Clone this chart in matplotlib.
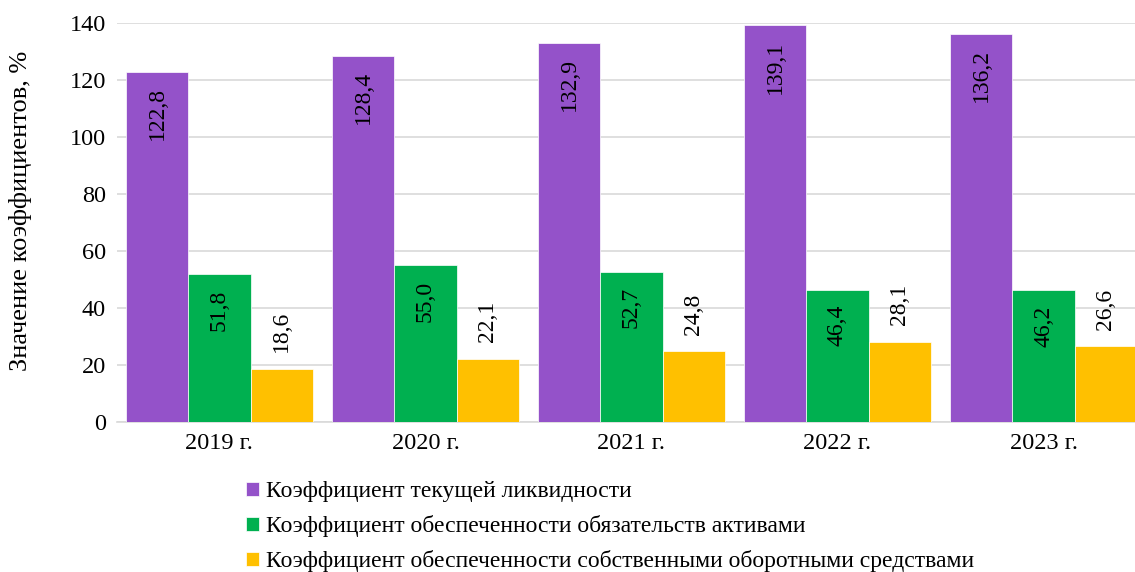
import numpy as np
import matplotlib.pyplot as plt

years = ["2019 г.", "2020 г.", "2021 г.", "2022 г.", "2023 г."]
current_liq = [122.8, 128.4, 132.9, 139.1, 136.2]
assets_cov = [51.8, 55.0, 52.7, 46.4, 46.2]
own_funds = [18.6, 22.1, 24.8, 28.1, 26.6]

series_names = [
    "Коэффициент текущей ликвидности",
    "Коэффициент обеспеченности обязательств активами",
    "Коэффициент обеспеченности собственными оборотными средствами",
]
colors = ["#9452C9", "#00B050", "#FFC000"]

plt.rcParams["font.family"] = ["Liberation Serif", "DejaVu Serif"]
plt.rcParams["font.size"] = 17.5

fig = plt.figure(figsize=(11.35, 5.72), dpi=100)
ax = fig.add_axes([0.103, 0.262, 0.897, 0.698])

x = np.arange(len(years))
width = 0.3025
allvals = [current_liq, assets_cov, own_funds]

for i, (vals, col, name) in enumerate(zip(allvals, colors, series_names)):
    pos = x + (i - 1) * width
    ax.bar(pos, vals, width=width, color=col, label=name, zorder=3,
           edgecolor="white", linewidth=0.5)
    for px, v in zip(pos, vals):
        lab = f"{v:.1f}".replace(".", ",")
        if i < 2:
            ax.annotate(lab, (px, v), xytext=(0, -11), textcoords="offset points",
                        rotation=90, ha="center", va="top", fontsize=17, zorder=4)
        else:
            ax.annotate(lab, (px, v), xytext=(0, 12), textcoords="offset points",
                        rotation=90, ha="center", va="bottom", fontsize=17, zorder=4)

ax.set_ylim(0, 140)
ax.set_yticks(np.arange(0, 141, 20))
ax.set_xlim(-0.4976, 4.444)
ax.set_xticks(x)
ax.set_xticklabels(years)
ax.grid(axis="y", color="#d9d9d9", linewidth=1.2, zorder=0)
for s in ["top", "right", "left"]:
    ax.spines[s].set_visible(False)
ax.spines["bottom"].set_color("#d9d9d9")
ax.spines["bottom"].set_linewidth(1.2)
ax.tick_params(axis="both", length=0, pad=8)
ax.set_ylabel("Значение коэффициентов, %", fontsize=19)
ax.yaxis.set_label_coords(-0.083, 0.53)

fig.legend(loc="upper left", bbox_to_anchor=(0.208, 0.175), frameon=False,
           handlelength=0.55, handleheight=0.55, handletextpad=0.3,
           labelspacing=0.55, fontsize=17, borderaxespad=0)

fig.savefig("out.png", dpi=100)
